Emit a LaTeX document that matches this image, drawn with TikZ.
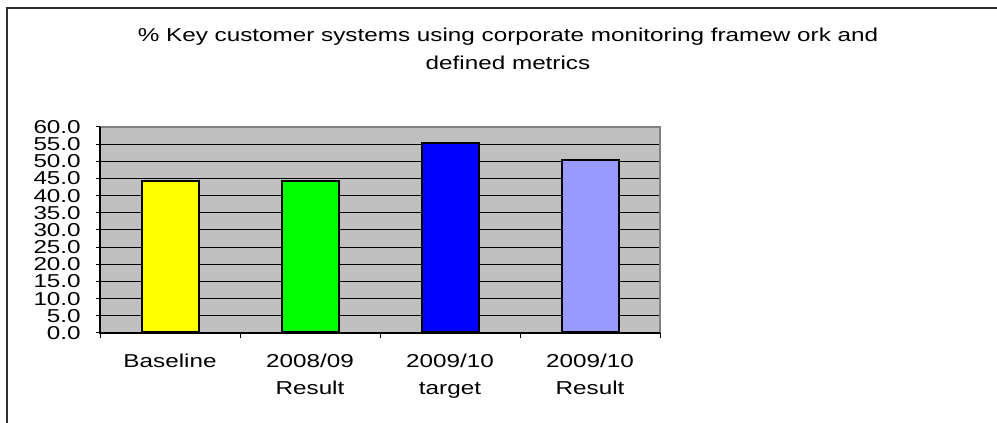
\documentclass[tikz,border=0pt]{standalone}
\usepackage{fontspec}
\setmainfont[FakeStretch=1.3]{Liberation Sans}
\usetikzlibrary{positioning}
\definecolor{barYellow}{HTML}{FFFF00}
\definecolor{barGreen}{HTML}{00FF00}
\definecolor{barBlue}{HTML}{0000FF}
\definecolor{barLilac}{HTML}{9999FF}
\definecolor{plotGrey}{HTML}{C0C0C0}
\definecolor{edgeGrey}{HTML}{808080}
\definecolor{frameGrey}{HTML}{303030}
\newcommand{\chartfont}{\fontsize{14}{20.7}\selectfont}

\begin{document}
\begin{tikzpicture}[x=0.75pt,y=0.75pt,
    lbl/.style={font=\chartfont,inner sep=0pt},
    bar/.style={draw=black,line width=1.5pt,inner sep=0pt,minimum width=42.75pt,anchor=south}]
  \useasboundingbox (0,0) rectangle (997,423);
  % outer frame (cut by the picture edge)
  \coordinate (frame bl) at (7,0);
  \coordinate (frame tr) at (997,415);
  \draw[frameGrey,line width=1.5pt] (frame bl) |- (frame tr);
  % title (base = last line)
  \node[lbl,align=center,anchor=base] (title) at (508,353.7)
    {\% Key customer systems using corporate monitoring framew ork and\\defined metrics};
  % plot area, y in data units
  \begin{scope}[shift={(100,90)},y=2.575pt]
    \fill[plotGrey] (0,0) rectangle (560,60);
    \foreach \v in {5,10,...,55}
      \draw[line width=0.75pt] (0,\v) -- (560,\v);
    \draw[edgeGrey,line width=1.5pt] (0,60) -- (560,60) -- (560,0);
    \foreach \v in {0,5,...,60}{
      \draw[line width=0.75pt] (-4,\v) -- (0,\v);
      \node[lbl,anchor=east] (ylab\v) at (-19,\v) {\v.0};
    }
    \foreach \i in {0,...,4}
      \draw[line width=0.75pt] (\i*140,0) -- ++(0,-3.75pt);
    \foreach \v/\c [count=\i] in {44/barYellow,44/barGreen,55/barBlue,50/barLilac}
      \node[bar,fill=\c,minimum height=\v*2.575pt] (bar\i) at (\i*140-70,0) {};
    \draw[line width=1pt] (0,60) -- (0,0) -- (560,0);
  \end{scope}
  % category labels
  \node[lbl,anchor=base] (cat1) at (170,55.3) {Baseline};
  \node[lbl,align=center,anchor=base] (cat2) at (310,28) {2008/09\\Result};
  \node[lbl,align=center,anchor=base] (cat3) at (450,28) {2009/10\\target};
  \node[lbl,align=center,anchor=base] (cat4) at (590,28) {2009/10\\Result};
\end{tikzpicture}
\end{document}
